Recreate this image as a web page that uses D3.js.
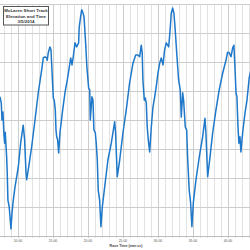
<!DOCTYPE html>
<html>
<head>
<meta charset="utf-8">
<script src="https://cdn.jsdelivr.net/npm/d3@7"></script>
<style>
  html, body { margin: 0; padding: 0; background: #fff; }
  svg { display: block; font-family: "Liberation Sans", Arial, sans-serif; }
</style>
</head>
<body>
<svg id="chart" width="250" height="250"></svg>
<script>
// race time in seconds, elevation (no y labels visible, so units are relative)
const raceSec = [446, 457, 463, 471, 480, 486, 491, 503, 508, 514, 525, 540, 549, 560, 574, 603, 623, 645, 657, 669,
  675, 692, 717, 746, 774, 803, 817, 831, 846, 851, 860, 874, 883, 894, 903, 911, 920, 926, 932, 940,
  949, 960, 983, 1003, 1023, 1040, 1052, 1063, 1074, 1089, 1103, 1120, 1125, 1137, 1146, 1155, 1166, 1180, 1191, 1206,
  1215, 1220, 1234, 1243, 1251, 1263, 1271, 1280, 1288, 1300, 1311, 1323, 1343, 1371, 1400, 1429, 1437, 1451, 1472, 1500,
  1528, 1557, 1586, 1609, 1629, 1643, 1657, 1665, 1671, 1683, 1691, 1700, 1708, 1717, 1729, 1743, 1757, 1772, 1785, 1800,
  1815, 1828, 1843, 1857, 1871, 1883, 1892, 1903, 1914, 1926, 1937, 1948, 1963, 1977, 1991, 2000, 2012, 2020, 2034, 2046,
  2055, 2068, 2080, 2091, 2103, 2126, 2154, 2183, 2203, 2211, 2226, 2246, 2269, 2297, 2325, 2355, 2383, 2397, 2411, 2426,
  2440, 2451, 2460, 2469, 2477, 2486, 2494, 2503, 2511, 2526, 2546, 2563, 2583, 2597];
const elevation = [24.0, 22.9, 20.0, 21.4, 17.4, 16.0, 17.9, 13.6, 10.9, 6.2, 5.0, 1.2, 4.0, 6.2, 8.4, 11.9, 16.0, 19.1, 16.6, 10.9,
  9.7, 11.9, 15.3, 20.0, 24.7, 28.6, 30.7, 30.9, 30.7, 30.3, 31.6, 32.6, 32.1, 27.4, 23.8, 23.4, 21.7, 18.3, 17.1, 16.6,
  14.3, 17.8, 21.7, 24.7, 26.9, 29.1, 30.7, 29.5, 30.9, 33.3, 32.6, 33.3, 36.0, 37.8, 39.0, 38.6, 37.8, 33.3, 29.1, 25.5,
  25.2, 20.0, 24.0, 23.4, 18.3, 17.8, 16.0, 13.1, 7.9, 6.2, 1.6, 5.0, 8.4, 13.1, 16.0, 19.7, 17.8, 10.2, 13.1, 17.8,
  21.7, 26.4, 29.8, 31.2, 31.2, 30.9, 32.9, 31.6, 26.9, 23.4, 23.8, 22.9, 18.8, 16.6, 14.5, 18.8, 22.2, 24.0, 25.7, 28.1,
  29.8, 30.7, 29.5, 32.1, 33.3, 32.9, 32.6, 35.2, 38.4, 39.3, 38.4, 35.5, 30.9, 26.9, 25.2, 20.5, 24.7, 23.4, 18.8, 18.3,
  13.1, 7.9, 5.7, 1.6, 5.7, 9.7, 13.6, 17.1, 20.3, 17.8, 10.2, 13.6, 17.8, 21.7, 25.2, 28.1, 30.3, 31.7, 31.6, 30.9,
  32.4, 32.9, 29.1, 24.7, 24.0, 18.8, 16.0, 17.1, 14.5, 17.8, 21.2, 23.4, 27.4, 28.6];
const majorTicks = [600, 900, 1200, 1500, 1800, 2100, 2400];
const majorLabels = ["10:00", "15:00", "20:00", "25:00", "30:00", "35:00", "40:00"];
const elevTicks = [0, 5, 10, 15, 20, 25, 30, 35, 40];
const titleLines = ["McLaren Short Track", "Elevation and Time", "3/5/2014"];
const xTitle = "Race Time (mm:ss)";

const svg = d3.select("#chart");
const plotL = 0, plotR = 250, plotT = 4, plotB = 236;

const x = d3.scaleLinear().domain([446, 2589]).range([plotL, plotR]);
const y = d3.scaleLinear().domain([0, 40]).range([plotB, plotT]);

// minor vertical grid, every minute
const minorTicks = d3.range(480, 2589, 60).filter(t => !majorTicks.includes(t));
svg.append("g").selectAll("line").data(minorTicks).join("line")
  .attr("x1", d => Math.round(x(d)) + 0.5).attr("x2", d => Math.round(x(d)) + 0.5)
  .attr("y1", plotT).attr("y2", plotB + 2)
  .attr("stroke", "#e2e2e2").attr("stroke-width", 1);

// major vertical grid
svg.append("g").selectAll("line").data(majorTicks).join("line")
  .attr("x1", d => Math.round(x(d)) + 0.5).attr("x2", d => Math.round(x(d)) + 0.5)
  .attr("y1", plotT).attr("y2", plotB + 2)
  .attr("stroke", "#cccccc").attr("stroke-width", 1);

// horizontal grid
svg.append("g").selectAll("line").data(elevTicks).join("line")
  .attr("x1", plotL).attr("x2", plotR)
  .attr("y1", d => Math.round(y(d)) + 0.5).attr("y2", d => Math.round(y(d)) + 0.5)
  .attr("stroke", d => d === 0 ? "#bdbdbd" : "#cdcdcd").attr("stroke-width", 1);

// x axis labels
svg.append("g").selectAll("text").data(majorTicks).join("text")
  .attr("x", d => x(d)).attr("y", 241.5)
  .attr("text-anchor", "middle").attr("font-size", 3.4).attr("fill", "#555")
  .text((d, i) => majorLabels[i]);

svg.append("text").attr("x", 126).attr("y", 246.5)
  .attr("text-anchor", "middle").attr("font-size", 3.6).attr("font-weight", "bold").attr("fill", "#444")
  .text(xTitle);

// the elevation line
const pts = raceSec.map((t, i) => [t, elevation[i]]);
const line = d3.line().x(d => x(d[0])).y(d => y(d[1]));
svg.append("path").datum(pts)
  .attr("d", line)
  .attr("fill", "none").attr("stroke", "#1f78c9").attr("stroke-width", 1.5)
  .attr("stroke-linejoin", "round");

// title box
const box = svg.append("g");
box.append("rect").attr("x", 3.5).attr("y", 6.5).attr("width", 45).attr("height", 18.5)
  .attr("fill", "#fff").attr("stroke", "#555").attr("stroke-width", 1);
box.selectAll("text").data(titleLines).join("text")
  .attr("x", 26).attr("y", (d, i) => 12 + i * 5.6)
  .attr("text-anchor", "middle").attr("font-size", 4.4).attr("font-weight", "bold").attr("fill", "#333")
  .text(d => d);
</script>
</body>
</html>
